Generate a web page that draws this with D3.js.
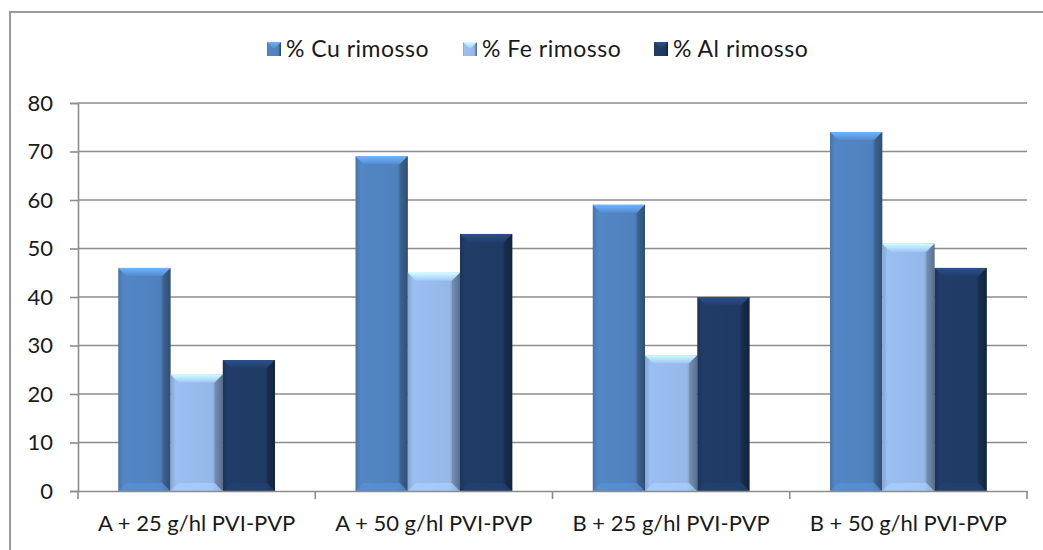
<!DOCTYPE html>
<html>
<head>
<meta charset="utf-8">
<script src="https://cdn.jsdelivr.net/npm/d3@7"></script>
<style>
  html, body { margin: 0; padding: 0; background: #fff; }
  svg { display: block; font-family: Lato, "Open Sans", sans-serif; }
</style>
</head>
<body>
<svg id="chart" width="1043" height="550"></svg>
<script>
// Treatment groups along the x axis
const categories = ["A + 25 g/hl PVI-PVP", "A + 50 g/hl PVI-PVP", "B + 25 g/hl PVI-PVP", "B + 50 g/hl PVI-PVP"];
// Series names and removal percentages per treatment
const seriesNames = ["% Cu rimosso", "% Fe rimosso", "% Al rimosso"];
const cuValues = [46, 69, 59, 74];
const feValues = [24, 45, 28, 51];
const alValues = [27, 53, 40, 46];
const yTicks = [0, 10, 20, 30, 40, 50, 60, 70, 80];

const seriesValues = [cuValues, feValues, alValues];
const baseColors = ["#4f81bd", "#95b8e8", "#1f3a64"];

const svg = d3.select("#chart");
const W = 1043, H = 550;
const margin = { left: 78, right: 16, top: 103, bottom: 59 };
const plotR = W - margin.right;
const plotB = H - margin.bottom;

// outer chart frame
svg.append("rect")
  .attr("x", 10).attr("y", 12).attr("width", W + 20).attr("height", H + 20)
  .attr("fill", "none").attr("stroke", "#9a9a9a").attr("stroke-width", 2);

const x0 = d3.scaleBand().domain(categories).range([margin.left, plotR]).paddingInner(0).paddingOuter(0);
const x1 = d3.scaleBand().domain(d3.range(3)).range([0, x0.bandwidth()]).paddingOuter(0.77).paddingInner(0);
const y = d3.scaleLinear().domain([0, 80]).range([plotB, margin.top]);

// horizontal gridlines
svg.append("g").selectAll("line").data(yTicks.filter(d => d > 0)).join("line")
  .attr("x1", margin.left).attr("x2", plotR)
  .attr("y1", d => y(d)).attr("y2", d => y(d))
  .attr("stroke", "#8c8c8c").attr("stroke-width", 1.6);

// gradients giving each bar a bevelled look
const defs = svg.append("defs");
baseColors.forEach((c, i) => {
  const base = d3.color(c);
  const g = defs.append("linearGradient").attr("id", "body" + i)
    .attr("x1", "0").attr("x2", "1").attr("y1", "0").attr("y2", "0");
  g.append("stop").attr("offset", "0").attr("stop-color", base.darker(0.3));
  g.append("stop").attr("offset", "0.1").attr("stop-color", base.brighter(0.1));
  g.append("stop").attr("offset", "0.8").attr("stop-color", base);
  g.append("stop").attr("offset", "0.88").attr("stop-color", base.darker(0.6));
  g.append("stop").attr("offset", "1").attr("stop-color", base.darker(1.8));
  const t = defs.append("linearGradient").attr("id", "top" + i)
    .attr("x1", "0").attr("x2", "0").attr("y1", "0").attr("y2", "1");
  t.append("stop").attr("offset", "0").attr("stop-color", base.brighter(0.9));
  t.append("stop").attr("offset", "1").attr("stop-color", base.brighter(0.2));
});

const bevel = 8;
const groups = svg.append("g").selectAll("g").data(categories).join("g")
  .attr("transform", d => `translate(${x0(d)},0)`);

groups.each(function (cat, ci) {
  const g = d3.select(this);
  seriesValues.forEach((vals, si) => {
    const v = vals[ci];
    const bx = x1(si), bw = x1.bandwidth();
    const top = y(v), bot = y(0);
    const base = d3.color(baseColors[si]);
    g.append("rect").attr("x", bx).attr("y", top).attr("width", bw).attr("height", bot - top)
      .attr("fill", `url(#body${si})`);
    // top bevel
    g.append("path")
      .attr("d", `M${bx},${top}L${bx + bw},${top}L${bx + bw - bevel},${top + bevel}L${bx + bevel},${top + bevel}Z`)
      .attr("fill", `url(#top${si})`);
    // bottom bevel
    g.append("path")
      .attr("d", `M${bx},${bot}L${bx + bw},${bot}L${bx + bw - bevel},${bot - bevel}L${bx + bevel},${bot - bevel}Z`)
      .attr("fill", base.brighter(0.35)).attr("opacity", 0.7);
    // right shaded edge
    g.append("path")
      .attr("d", `M${bx + bw},${top}L${bx + bw},${bot}L${bx + bw - bevel},${bot - bevel}L${bx + bw - bevel},${top + bevel}Z`)
      .attr("fill", base.darker(1.1)).attr("opacity", 0.5);
  });
});

// value axis
const yAxis = svg.append("g").attr("transform", `translate(${margin.left},0)`)
  .call(d3.axisLeft(y).tickValues(yTicks).tickSize(8).tickPadding(17));
yAxis.select(".domain").attr("stroke", "#8c8c8c").attr("stroke-width", 1.6);
yAxis.selectAll(".tick line").attr("stroke", "#8c8c8c").attr("stroke-width", 1.6);
yAxis.selectAll("text").attr("font-size", 22).attr("fill", "#1a1a1a")
  .attr("font-family", "Lato, sans-serif");

// category axis
const xAxis = svg.append("g").attr("transform", `translate(0,${plotB})`)
  .call(d3.axisBottom(x0).tickSize(0).tickPadding(24));
xAxis.select(".domain").attr("stroke", "#8c8c8c").attr("stroke-width", 1.6);
xAxis.selectAll("text").attr("font-size", 22).attr("fill", "#1a1a1a")
  .attr("font-family", "Lato, sans-serif");
// boundary ticks between categories
const bounds = categories.map(c => x0(c)).concat([plotR]);
xAxis.selectAll(".bound").data(bounds).join("line").attr("class", "bound")
  .attr("x1", d => d).attr("x2", d => d).attr("y1", 0).attr("y2", 8)
  .attr("stroke", "#8c8c8c").attr("stroke-width", 1.6);

// legend
const legendX = [267, 463, 654];
const legend = svg.append("g");
seriesNames.forEach((name, i) => {
  const lg = legend.append("g").attr("transform", `translate(${legendX[i]},42)`);
  lg.append("rect").attr("width", 14).attr("height", 14).attr("fill", `url(#body${i})`);
  lg.append("path").attr("d", "M0,0L14,0L7,7Z").attr("fill", `url(#top${i})`);
  lg.append("text").attr("x", 19).attr("y", 15).attr("font-size", 23).attr("letter-spacing", 0.5)
    .attr("fill", "#1a1a1a").text(name);
});
</script>
</body>
</html>
